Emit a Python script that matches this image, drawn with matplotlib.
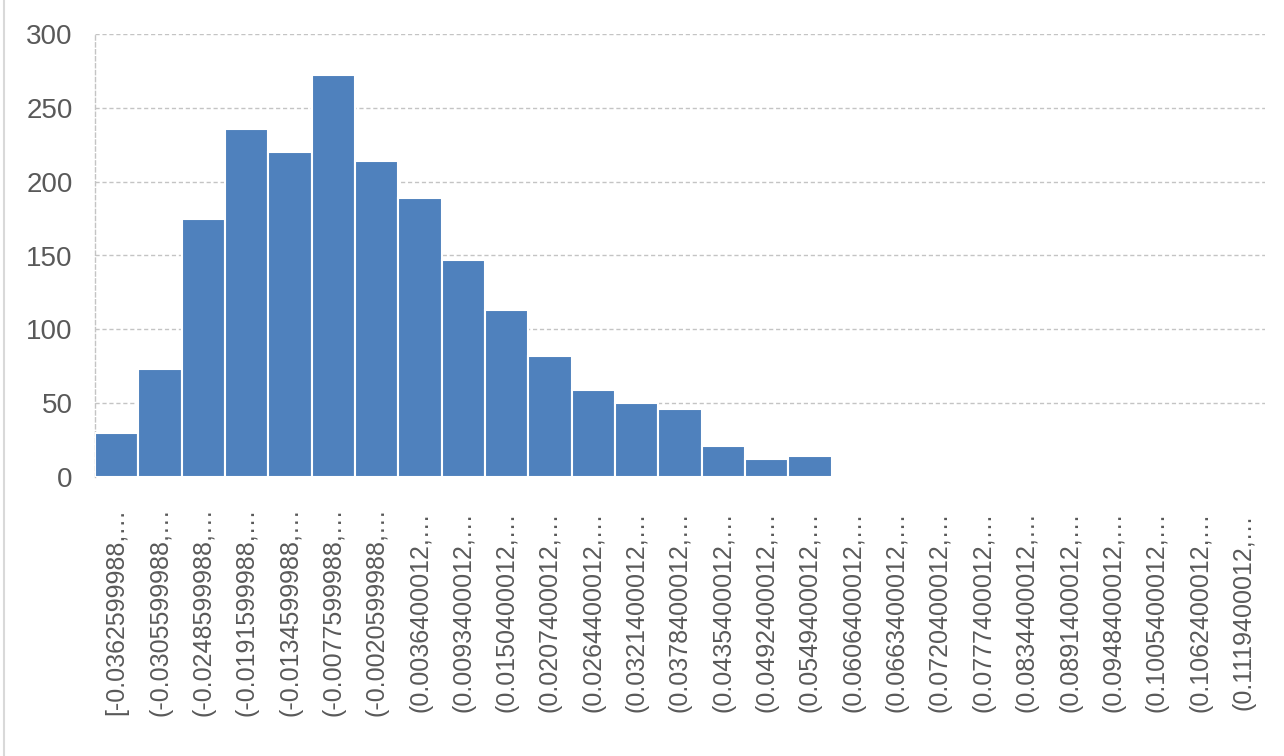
import matplotlib
matplotlib.use("Agg")
import matplotlib.pyplot as plt
from matplotlib.lines import Line2D

# bin labels (left edges), as shown on the category axis
bins = ["[-0.0362599988,…", "(-0.0305599988,…", "(-0.0248599988,…", "(-0.0191599988,…",
        "(-0.0134599988,…", "(-0.0077599988,…", "(-0.0020599988,…", "(0.0036400012,…",
        "(0.0093400012,…", "(0.0150400012,…", "(0.0207400012,…", "(0.0264400012,…",
        "(0.0321400012,…", "(0.0378400012,…", "(0.0435400012,…", "(0.0492400012,…",
        "(0.0549400012,…", "(0.0606400012,…", "(0.0663400012,…", "(0.0720400012,…",
        "(0.0777400012,…", "(0.0834400012,…", "(0.0891400012,…", "(0.0948400012,…",
        "(0.1005400012,…", "(0.1062400012,…", "(0.1119400012,…"]
counts = [30, 73, 175, 236, 220, 272, 214, 189, 147, 113, 82, 59, 50, 46, 21, 12, 14,
          0, 0, 0, 0, 0, 0, 0, 0, 0, 0]
yticks = [0, 50, 100, 150, 200, 250, 300]

plt.rcParams['font.family'] = ['Liberation Sans', 'DejaVu Sans']
txt = '#595959'
grid = '#c4c4c4'

fig = plt.figure(figsize=(12.84, 7.56), dpi=100)
ax = fig.add_axes([95 / 1284, 1 - 477 / 756, 1170 / 1284, 443 / 756])

x = list(range(len(bins)))
ax.bar(x, counts, width=1.0, color='#4f81bd', edgecolor='white', linewidth=1.5, zorder=3)

ax.set_xlim(-0.5, len(bins) - 0.5)
ax.set_ylim(0, 300)
ax.set_yticks(yticks)
ax.set_xticks(x)
ax.set_xticklabels(bins, rotation=90, ha='center', va='center')

ax.grid(axis='y', color=grid, linestyle=(0, (3, 2)), linewidth=1.0, zorder=0)
ax.tick_params(axis='y', length=0, pad=16, labelsize=20, labelcolor=txt)
ax.tick_params(axis='x', length=0, pad=97, labelsize=18, labelcolor=txt)

for s in ['top', 'right', 'bottom']:
    ax.spines[s].set_visible(False)
ax.spines['left'].set_color(grid)
ax.spines['left'].set_linestyle((0, (3, 2)))
ax.spines['left'].set_linewidth(1.0)

# chart frame edge on the left
fig.add_artist(Line2D([4 / 1284, 4 / 1284], [0, 1], color='#d9d9d9', linewidth=1.5))

fig.savefig('out.png', dpi=100)
